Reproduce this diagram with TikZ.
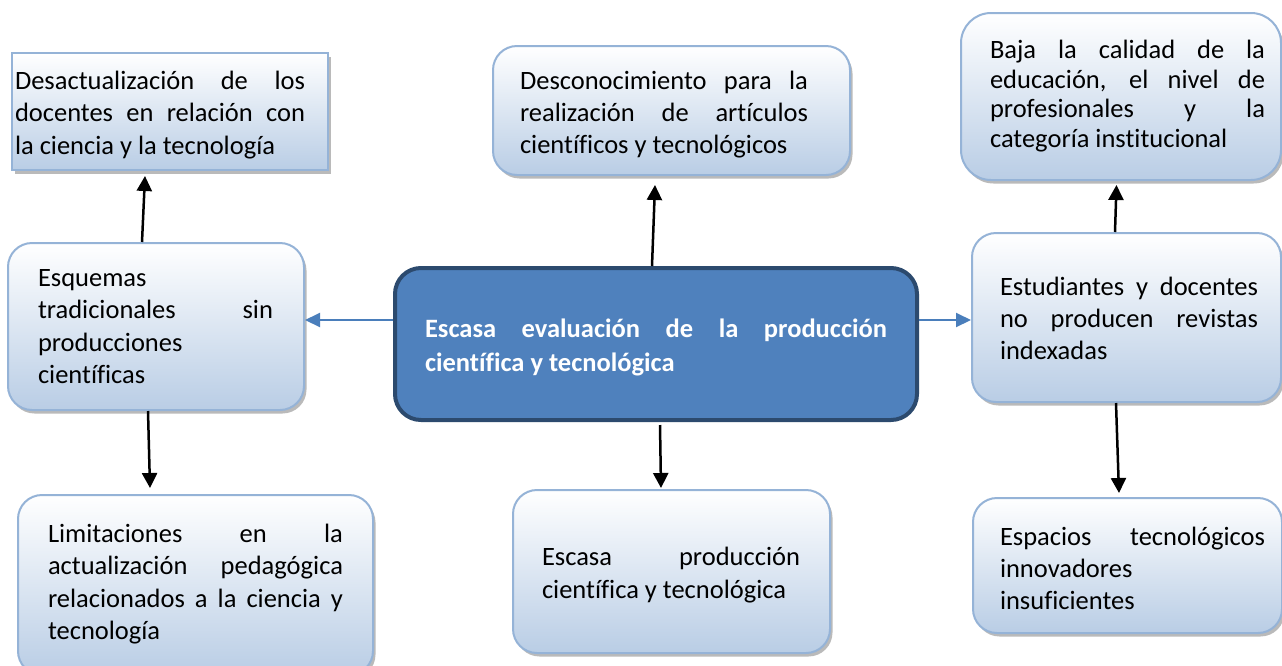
\documentclass[tikz,border=0pt]{standalone}
\usepackage{fontspec}
\setmainfont{Carlito}[Ligatures={NoCommon,NoContextual}]
\usetikzlibrary{arrows.meta,shadows,calc}
\definecolor{boxborder}{HTML}{95B3D7}
\definecolor{boxbottom}{HTML}{B9CDE5}
\definecolor{mainfill}{HTML}{4F81BD}
\definecolor{mainborder}{HTML}{2C4A6E}
\definecolor{bluearrow}{HTML}{4A7EBB}
\hyphenpenalty=10000
\exhyphenpenalty=10000
\tolerance=10000
\hbadness=10000
\tikzset{
  softbox/.style={draw=boxborder, line width=2pt, top color=white, bottom color=boxbottom,
    inner sep=0pt, rounded corners=24pt,
    drop shadow={shadow xshift=2.5pt, shadow yshift=-3.5pt, fill=black!60, opacity=0.45}},
  squarebox/.style={softbox, sharp corners},
  mainbox/.style={draw=mainborder, line width=4pt, fill=mainfill, inner sep=0pt, rounded corners=26pt},
  txt/.style={text width=#1, align=justify, inner sep=0pt,
    font=\fontsize{26.5}{32.3}\selectfont},
  blacharrow/.style={line width=2.5pt, black, -{Triangle[length=15pt,width=15pt]}},
  bluarrow/.style={line width=2pt, bluearrow, -{Triangle[length=15pt,width=14pt]}},
}
\begin{document}
\begin{tikzpicture}[x=1pt,y=-1pt]
\useasboundingbox (0,0) rectangle (1282,665);
\clip (0,0) rectangle (1282,665);
\fill[white] (0,0) rectangle (1282,665);

% boxes
\node[squarebox, minimum width=316pt, minimum height=117pt] (tl) at (170,111.5) {};
\node[softbox, minimum width=357pt, minimum height=129pt] (tc) at (671.5,110.5) {};
\node[softbox, rounded corners=30pt, minimum width=320pt, minimum height=167pt] (tr) at (1121,96.5) {};
\node[softbox, minimum width=296pt, minimum height=167pt] (lm) at (156,326.5) {};
\node[mainbox, minimum width=522pt, minimum height=152pt] (ce) at (656,344) {};
\node[softbox, minimum width=309pt, minimum height=169pt] (rm) at (1126.5,317.5) {};
\node[softbox, minimum width=355pt, minimum height=180pt] (bl) at (195.5,585) {};
\node[softbox, minimum width=317pt, minimum height=163pt] (bc) at (671.5,571.5) {};
\node[softbox, minimum width=309pt, minimum height=135pt] (br) at (1127.5,565.5) {};

% texts
\node[txt=290pt] (ttl) at (160,115) {Desactualización de los\linebreak docentes en relación con\linebreak la ciencia y la tecnología};
\node[txt=288pt] (ttc) at (664,114.5) {Desconocimiento para la\linebreak realización de artículos\linebreak científicos y tecnológicos};
\node[txt=275pt, font=\fontsize{26.5}{29.5}\selectfont] (ttr) at (1127.5,96) {Baja la calidad de la\linebreak educación, el nivel de\linebreak profesionales y la\linebreak categoría institucional};
\node[txt=235pt] (tlm) at (155.5,326.5) {Esquemas\\ tradicionales sin\linebreak producciones\\ científicas};
\node[txt=462pt, text=white, font=\fontsize{26.5}{34}\selectfont\bfseries] (tce) at (656,347) {Escasa evaluación de la producción\linebreak científica y tecnológica};
\node[txt=258pt] (trm) at (1129,318.5) {Estudiantes y docentes\linebreak no producen revistas\linebreak indexadas};
\node[txt=295pt] (tbl) at (195.5,584) {Limitaciones en la\linebreak actualización pedagógica\linebreak relacionados a la ciencia y\linebreak tecnología};
\node[txt=258pt] (tbc) at (671,575) {Escasa producción\linebreak científica y tecnológica};
\node[txt=265pt] (tbr) at (1132.5,568.5) {Espacios tecnológicos\linebreak innovadores\\ insuficientes};

% arrows
\draw[blacharrow] ([xshift=-14pt]lm.north) -- ([xshift=-25pt,yshift=-5pt]tl.south);
\draw[blacharrow] ([xshift=-8pt]lm.south) -- ([xshift=-45.5pt,yshift=6pt]bl.north);
\draw[bluarrow] ([yshift=24pt]ce.west) -- ([yshift=6.5pt]lm.east);
\draw[bluarrow] ([yshift=24pt]ce.east) -- ([yshift=-2.5pt]rm.west);
\draw[blacharrow] ([xshift=-4pt]ce.north) -- ([xshift=-16.5pt,yshift=-9pt]tc.south);
\draw[blacharrow] ([xshift=4pt,yshift=-3pt]ce.south) -- ([xshift=-10.5pt,yshift=1pt]bc.north);
\draw[blacharrow] ([xshift=-11.5pt]rm.north) -- ([xshift=-4.5pt,yshift=-4pt]tr.south);
\draw[blacharrow] ([xshift=-10.5pt]rm.south) -- ([xshift=-8.5pt,yshift=4pt]br.north);
\end{tikzpicture}
\end{document}
